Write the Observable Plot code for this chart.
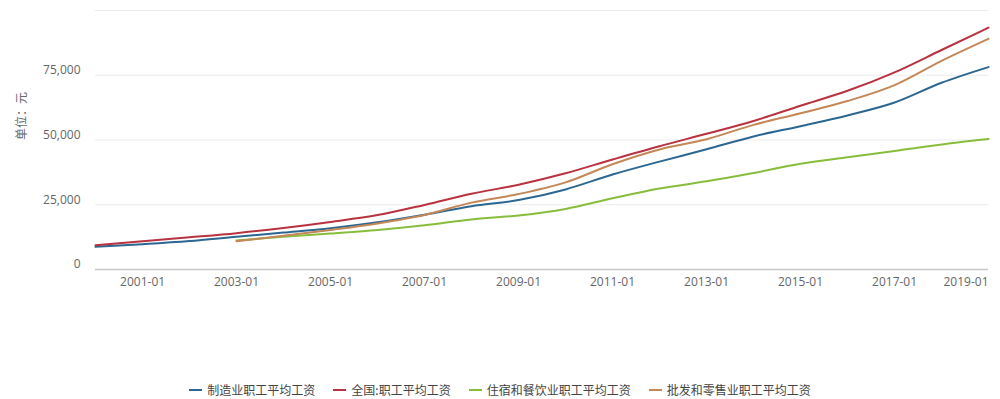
<!DOCTYPE html>
<html><head><meta charset="utf-8">
<script src="https://cdn.jsdelivr.net/npm/d3@7"></script>
<script src="https://cdn.jsdelivr.net/npm/@observablehq/plot@0.6"></script>
<style>
html,body{margin:0;padding:0;background:#fff;}
body{font-family:"Open Sans","Noto Sans CJK SC",sans-serif;width:1000px;height:399px;overflow:hidden;}
#legend{display:flex;justify-content:center;align-items:center;height:25px;margin-top:3px;font-size:12px;color:#444;font-family:"Noto Sans CJK SC","Noto Sans",sans-serif;}
.item{display:flex;align-items:center;margin:0 9px;}
.sw{width:13px;height:2px;margin-right:5px;}
</style></head><body><div id="chart"></div><div id="legend"></div>
<script>
const years = [2000,2001,2002,2003,2004,2005,2006,2007,2008,2009,2010,2011,2012,2013,2014,2015,2016,2017,2018,2019];
const seriesNames = ["制造业职工平均工资","全国:职工平均工资","住宿和餐饮业职工平均工资","批发和零售业职工平均工资"];
const seriesColors = ["#2c6792","#b8323f","#88bd3c","#c48758"];
const manufacturing = [8750,9774,11001,12671,14251,15934,18225,21144,24404,26810,30916,36665,41650,46431,51369,55324,59470,64452,72088,78147];
const national = [9371,10870,12422,14040,16024,18364,21001,24932,29229,32736,37147,42452,47593,52388,57361,63241,68993,76121,84744,93383];
const accommodation = [null,null,null,11198,12618,13876,15236,17046,19321,20860,23382,27486,31267,34044,37264,40806,43382,45751,48260,50346];
const wholesale = [null,null,null,10894,13012,15256,17796,21074,25818,29139,33635,40654,46340,50308,55838,60328,65061,71201,80551,89047];
const xTickYears = [2001,2003,2005,2007,2009,2011,2013,2015,2017];
const xLastTickYear = [2019];
const yTicks = [0,25000,50000,75000];
const yGrid = [25000,50000,75000,100000];
const yTitle = ["单位：元"];

const allSeries = [manufacturing, national, accommodation, wholesale];
const data = [];
allSeries.forEach((vals, i) => {
  years.forEach((yr, j) => {
    data.push({series: seriesNames[i], date: new Date(Date.UTC(yr, 0, 1)), value: vals[j]});
  });
});
const toDate = yr => new Date(Date.UTC(yr, 0, 1));
const fmt = d3.utcFormat("%Y-01");

const chart = Plot.plot({
  width: 1000,
  height: 374,
  marginLeft: 95,
  marginRight: 12,
  marginTop: 10,
  marginBottom: 105,
  style: {fontSize: "12px", fontFamily: "'Open Sans','Noto Sans CJK SC',sans-serif", color: "#666", background: "#fff"},
  x: {type: "utc", domain: [toDate(2000), toDate(2019)]},
  y: {domain: [0, 100000]},
  color: {domain: seriesNames, range: seriesColors},
  marks: [
    Plot.gridY(yGrid, {stroke: "#ebebeb", strokeOpacity: 1}),
    Plot.ruleY([0], {stroke: "#c8c8c8", strokeWidth: 1.5}),
    Plot.axisY({ticks: yTicks, tickSize: 0, tickPadding: 15, tickFormat: d3.format(","), label: null, dy: -5, fill: "#666"}),
    Plot.axisX({ticks: xTickYears.map(toDate), tickSize: 0, tickPadding: 8, tickFormat: fmt, label: null, fill: "#666"}),
    Plot.axisX({ticks: xLastTickYear.map(toDate), tickSize: 0, tickPadding: 8, tickFormat: fmt, label: null, textAnchor: "end", fill: "#666"}),
    Plot.text(yTitle, {frameAnchor: "left", dx: -73, rotate: -90, fill: "#666", fontSize: 12, fontFamily: "'Noto Sans CJK SC',sans-serif"}),
    Plot.line(data, {x: "date", y: "value", z: "series", stroke: "series", curve: "monotone-x", strokeWidth: 2})
  ]
});
document.getElementById("chart").appendChild(chart);

const legend = document.getElementById("legend");
seriesNames.forEach((name, i) => {
  const item = document.createElement("div");
  item.className = "item";
  const sw = document.createElement("span");
  sw.className = "sw";
  sw.style.background = seriesColors[i];
  const label = document.createElement("span");
  label.textContent = name;
  item.appendChild(sw);
  item.appendChild(label);
  legend.appendChild(item);
});
</script>
</body></html>
